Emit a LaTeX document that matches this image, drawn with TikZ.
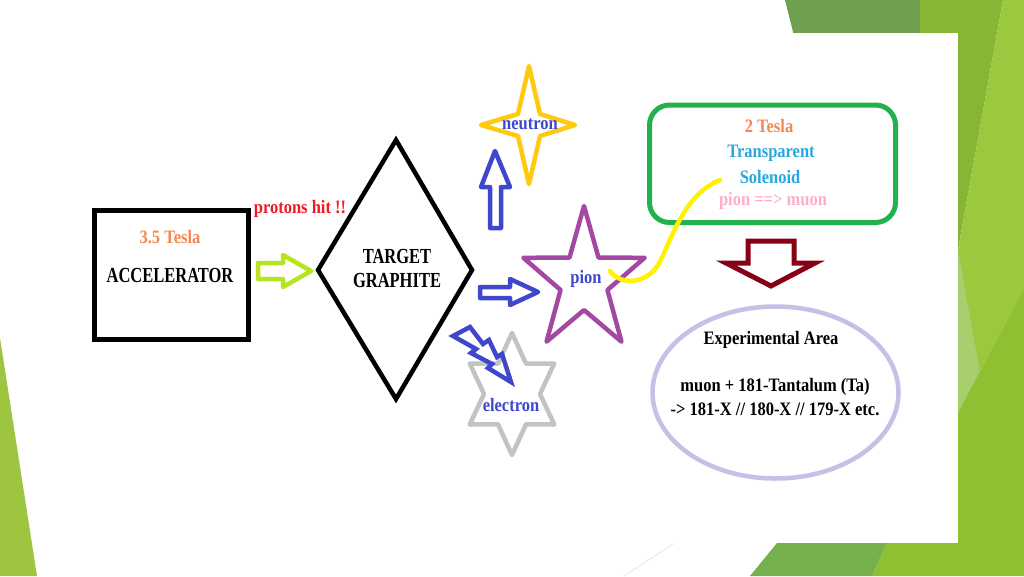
\documentclass[tikz,border=0pt]{standalone}
\usepackage{fontspec}
\setmainfont{Liberation Serif}
\usepackage{graphicx}
\definecolor{bgdark}{RGB}{111,159,80}
\definecolor{bgmid}{RGB}{135,181,52}
\definecolor{bglight}{RGB}{155,200,63}
\definecolor{bgpale}{RGB}{168,206,110}
\definecolor{bglow}{RGB}{143,192,50}
\definecolor{bgbot}{RGB}{116,176,75}
\definecolor{bgleft}{RGB}{157,197,63}
\definecolor{orangeA}{RGB}{245,135,79}
\definecolor{redA}{RGB}{237,28,36}
\definecolor{blueA}{RGB}{63,72,204}
\definecolor{cyanA}{RGB}{41,168,224}
\definecolor{pinkA}{RGB}{255,174,201}
\definecolor{limeA}{RGB}{181,230,29}
\definecolor{yellowA}{RGB}{255,201,14}
\definecolor{purpleA}{RGB}{163,73,164}
\definecolor{grayA}{RGB}{195,195,195}
\definecolor{greenA}{RGB}{34,177,76}
\definecolor{yelA}{RGB}{255,242,0}
\definecolor{maroonA}{RGB}{136,0,21}
\definecolor{lavA}{RGB}{200,191,231}
\newcommand\tallx[1]{\scalebox{1}[1.3]{#1}}
\newcommand\tally[1]{\scalebox{1}[1.15]{#1}}
\tikzset{
  lbl/.style={font=\fontsize{16.5}{19}\selectfont\bfseries, inner sep=0pt, align=center},
  shapeline/.style={line width=4.5pt, line join=round},
}
\begin{document}
\begin{tikzpicture}[x=1pt,y=-1pt]
\useasboundingbox (0,0) rectangle (1024,576);
\fill[white] (0,0) rectangle (1024,576);
% slide background
\fill[bgdark] (785,0) -- (922,0) -- (926,60) -- (800,60) -- cycle;
\fill[bgmid] (920,0) -- (1003,0) -- (958,250) -- (920,250) -- cycle;
\fill[bglight] (1003,0) -- (1024,0) -- (1024,288) -- (958,413) -- (958,250) -- cycle;
\fill[bgpale] (958,250) -- (980,373) -- (958,413) -- cycle;
\fill[bglow] (958,413) -- (1024,288) -- (1024,576) -- (872,576) -- (887,543) -- (958,543) -- cycle;
\fill[bgbot] (777,543) -- (887,543) -- (872,576) -- (750,576) -- cycle;
\fill[white] (40,33) rectangle (958,543);
\fill[bgleft] (0,338) -- (37,576) -- (0,576) -- cycle;
\draw[gray!25, line width=0.6pt] (624,576) -- (673,544);

% accelerator
\draw[line width=5pt] (94.5,210) rectangle (248,339.5);
\node[lbl, text=orangeA] (t35) at (170,237) {\tally{3.5 Tesla}};
\node[lbl] (acc) at (170,275) {\tallx{ACCELERATOR}};

% green block arrow
\draw[shapeline, limeA] (258,263) -- (283,263) -- (283,255) -- (311,271) -- (283,287) -- (283,279) -- (258,279) -- cycle;
\node[lbl, text=redA] (hit) at (300,209) {\tally{protons hit !!}};

% target diamond
\draw[line width=4.5pt, line join=miter] (396,140) -- (472,270) -- (396,399) -- (318,270) -- cycle;
\node[lbl] (tgt) at (397,256) {\tallx{TARGET}};
\node[lbl] (gra) at (397,280) {\tallx{GRAPHITE}};

% up arrow
\draw[shapeline, blueA] (490,228) -- (490,187) -- (481,187) -- (495,151) -- (510,187) -- (501,187) -- (501,228) -- cycle;

% neutron star
\draw[shapeline, yellowA] (529,66) -- (540,114) -- (575,125) -- (540,136) -- (529,184) -- (518,136) -- (481,125) -- (518,114) -- cycle;
\node[lbl, text=blueA] (neu) at (530,124) {\tally{neutron}};

% right arrow
\draw[shapeline, blueA] (480,287) -- (510,287) -- (510,279) -- (538,292) -- (510,305) -- (510,298) -- (480,298) -- cycle;

% pion star
\begin{scope}[shift={(584,281)}, xscale=0.85]
\draw[shapeline, purpleA] (-90:75) -- (-54:29) -- (-18:75) -- (18:29) -- (54:75) -- (90:29) -- (126:75) -- (162:29) -- (198:75) -- (234:29) -- cycle;
\end{scope}
\node[lbl, text=blueA] (pion) at (586,279) {\tally{pion}};

% electron star
\begin{scope}[shift={(512,394)}, xscale=0.8]
\draw[shapeline, grayA] (-90:61) -- (-60:35) -- (-30:61) -- (0:35) -- (30:61) -- (60:35) -- (90:61) -- (120:35) -- (150:61) -- (180:35) -- (210:61) -- (240:35) -- cycle;
\end{scope}
\node[lbl, text=blueA] (ele) at (511,405) {\tally{electron}};

% lightning bolt
\draw[line width=4.5pt, line join=miter, miter limit=4, blueA] (453,336) -- (470,327) -- (483,344) -- (489,340) -- (497,357) -- (502,354) -- (511,382) -- (488,368) -- (492,364) -- (471,353) -- (476,349) -- cycle;

% solenoid box
\draw[line width=5pt, greenA, rounded corners=20pt] (649.5,105) rectangle (895.5,222.5);
\node[lbl, text=orangeA] (t2) at (769,126) {\tally{2 Tesla}};
\node[lbl, text=cyanA] (tr) at (771,153) {\tally{Transparent}};
\node[lbl, text=cyanA] (so) at (770,177) {\tally{Solenoid}};
\node[lbl, text=pinkA] (pm) at (773,201) {\tally{pion ==> muon}};

% yellow curve
\draw[line width=4.5pt, yelA, line cap=round] (610,271) .. controls (620,285) and (645,285) .. (658,265) .. controls (670,245) and (682,195) .. (720,180);

% down arrow
\draw[line width=5pt, maroonA, line join=miter] (748,241) -- (794,241) -- (794,263) -- (815,263) -- (771,286) -- (726,263) -- (748,263) -- cycle;

% experimental area
\draw[line width=4.5pt, lavA] (775.5,392.5) ellipse [x radius=123, y radius=86];
\node[lbl] (ea) at (771,340) {\tally{Experimental Area}};
\node[lbl] (mu) at (775,387) {\tally{muon + 181-Tantalum (Ta)}};
\node[lbl] (xx) at (775,409) {\tally{-> 181-X // 180-X // 179-X etc.}};
\end{tikzpicture}
\end{document}
